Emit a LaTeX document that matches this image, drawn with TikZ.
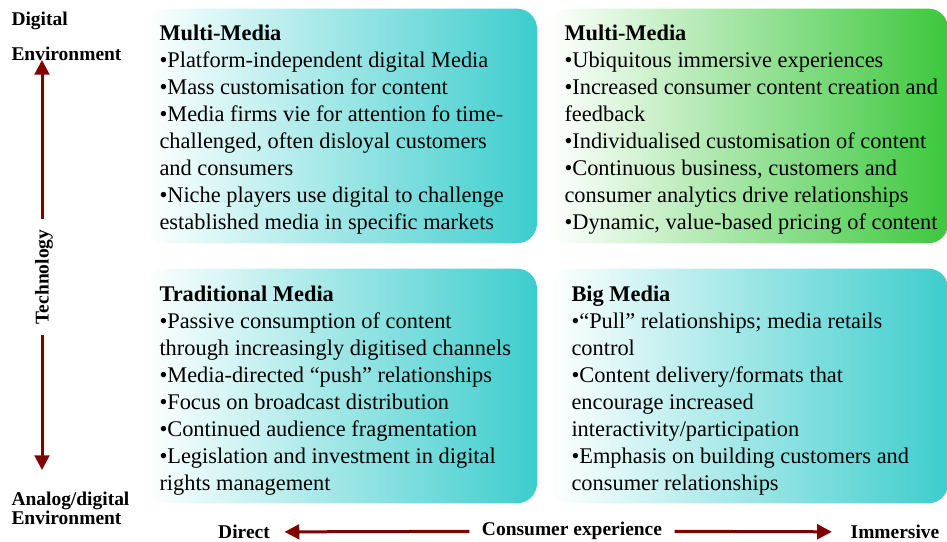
\documentclass[tikz,border=0pt]{standalone}
\usepackage{fontspec}
\setmainfont{Liberation Serif}
\usetikzlibrary{arrows.meta}

\definecolor{mediateal}{RGB}{61,205,205}
\definecolor{mediagreen}{RGB}{60,200,60}
\definecolor{axisred}{RGB}{128,0,0}

\tikzset{every picture/.style={line width=0.75pt}}
\tikzset{
  quadbox/.style={rectangle, rounded corners=15pt, inner sep=0pt, minimum width=294pt, minimum height=176pt, left color=white},
  quadtext/.style={anchor=north west, inner sep=0.75pt, align=left, font=\fontsize{16.8}{20.25}\selectfont},
  axislabel/.style={inner sep=0.75pt, font=\fontsize{14.6}{14.3}\selectfont\bfseries},
  axisarrow/.style={draw=axisred, line width=2.25pt, -{Triangle[length=11pt,width=11pt]}}
}

\begin{document}
\begin{tikzpicture}[x=0.75pt,y=0.75pt,yscale=-1,xscale=1]
\useasboundingbox (0,0) rectangle (947,542);
%Quadrant boxes
\node (tlbox) [quadbox, right color=mediateal] at (341,126) {};
\node (trbox) [quadbox, right color=mediagreen, minimum width=299pt] at (749,126) {};
\node (blbox) [quadbox, right color=mediateal] at (341,386) {};
\node (brbox) [quadbox, right color=mediateal, minimum width=299pt] at (749,386) {};

% Text Node
\node (tltext) [quadtext] at (158,23) {\textbf{Multi-Media}\\•Platform-independent digital Media\\•Mass customisation for content\\•Media firms vie for attention fo time-\\challenged, often disloyal customers\\and consumers\\•Niche players use digital to challenge\\established media in specific markets};
% Text Node
\node (trtext) [quadtext] at (563,23) {\textbf{Multi-Media}\\•Ubiquitous immersive experiences\\•Increased consumer content creation and\\feedback\\•Individualised customisation of content\\•Continuous business, customers and\\consumer analytics drive relationships\\•Dynamic, value-based pricing of content};
% Text Node
\node (bltext) [quadtext] at (158,284) {\textbf{Traditional Media}\\•Passive consumption of content\\through increasingly digitised channels\\•Media-directed “push” relationships\\•Focus on broadcast distribution\\•Continued audience fragmentation\\•Legislation and investment in digital\\rights management};
% Text Node
\node (brtext) [quadtext] at (570,284) {\textbf{Big Media}\\•“Pull” relationships; media retails\\control\\•Content delivery/formats that\\encourage increased\\interactivity/participation\\•Emphasis on building customers and\\consumer relationships};

%Technology axis
\node (digital) [axislabel, anchor=north west, align=left] at (10,10) {Digital\\[12pt]Environment};
\node (analog) [axislabel, anchor=north west, align=left] at (10,490) {Analog/digital\\Environment};
\node (tech) [axislabel, rotate=90, inner xsep=8pt] at (44,277) {Technology};
\coordinate (techtop) at (42,60);
\coordinate (techbot) at (42,470);
\draw [axisarrow] (tech.east -| techtop) -- (techtop);
\draw [axisarrow] (tech.west -| techbot) -- (techbot);

%Consumer experience axis
\node (direct) [axislabel] at (244,532) {Direct};
\node (consumer) [axislabel, inner xsep=9pt] at (572,531) {Consumer experience};
\node (immersive) [axislabel] at (895,532) {Immersive};
\draw [axisarrow, shorten >=10pt] (consumer) -- (direct);
\draw [axisarrow, shorten >=13pt] (consumer) -- (immersive);
\end{tikzpicture}
\end{document}
